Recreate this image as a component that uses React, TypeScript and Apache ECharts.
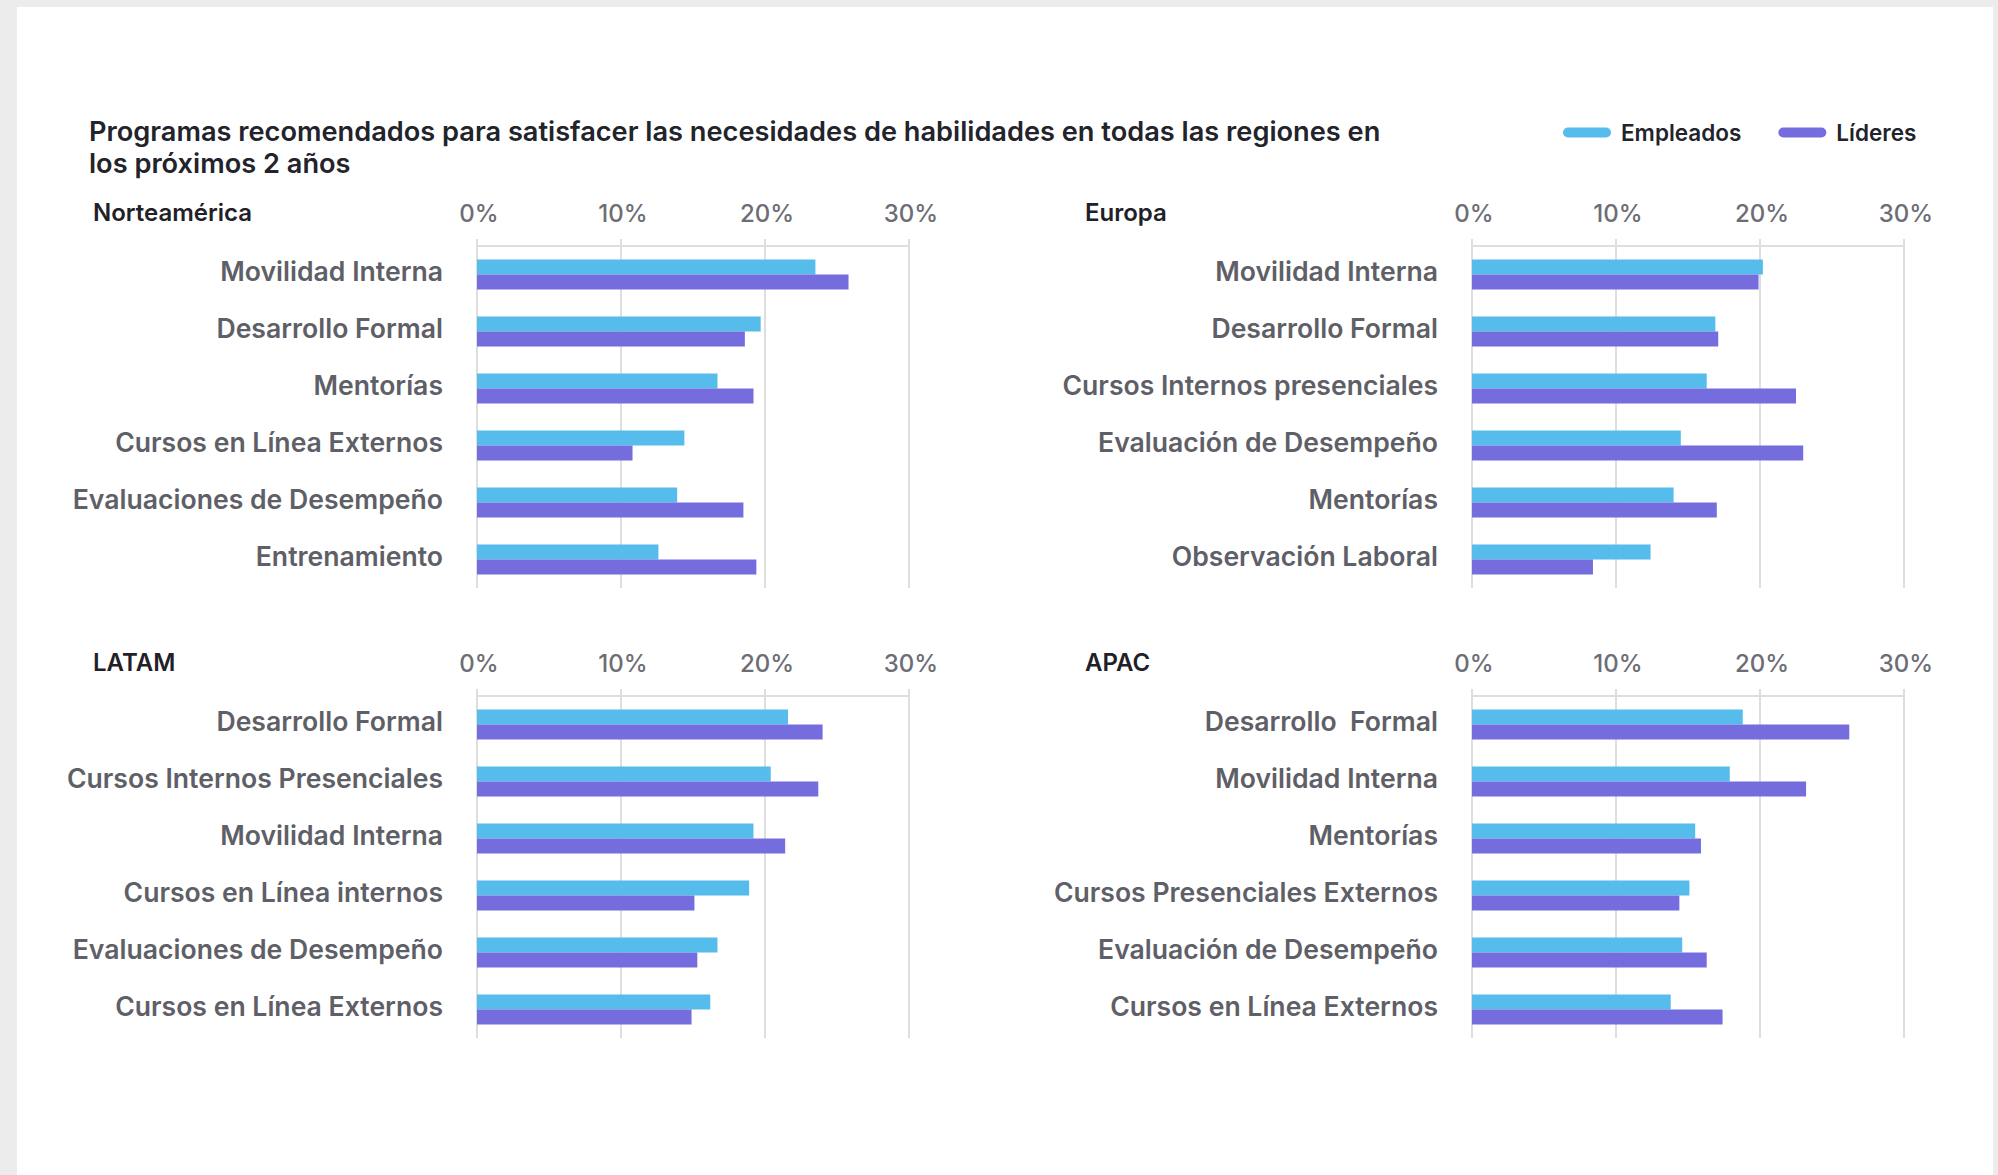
import React, { useEffect, useRef } from "react";
import * as echarts from "echarts";

const seriesNames = ["Empleados", "Líderes"];
const regionNames = ["Norteamérica", "Europa", "LATAM", "APAC"];
const tickValues = [0, 10, 20, 30];

const naCats = ["Movilidad Interna", "Desarrollo Formal", "Mentorías", "Cursos en Línea Externos", "Evaluaciones de Desempeño", "Entrenamiento"];
const naEmp = [23.5, 19.7, 16.7, 14.4, 13.9, 12.6];
const naLid = [25.8, 18.6, 19.2, 10.8, 18.5, 19.4];

const euCats = ["Movilidad Interna", "Desarrollo Formal", "Cursos Internos presenciales", "Evaluación de Desempeño", "Mentorías", "Observación Laboral"];
const euEmp = [20.2, 16.9, 16.3, 14.5, 14.0, 12.4];
const euLid = [19.9, 17.1, 22.5, 23.0, 17.0, 8.4];

const latCats = ["Desarrollo Formal", "Cursos Internos Presenciales", "Movilidad Interna", "Cursos en Línea internos", "Evaluaciones de Desempeño", "Cursos en Línea Externos"];
const latEmp = [21.6, 20.4, 19.2, 18.9, 16.7, 16.2];
const latLid = [24.0, 23.7, 21.4, 15.1, 15.3, 14.9];

const apCats = ["Desarrollo  Formal", "Movilidad Interna", "Mentorías", "Cursos Presenciales Externos", "Evaluación de Desempeño", "Cursos en Línea Externos"];
const apEmp = [18.8, 17.9, 15.5, 15.1, 14.6, 13.8];
const apLid = [26.2, 23.2, 15.9, 14.4, 16.3, 17.4];

const titleText = "Programas recomendados para satisfacer las necesidades de habilidades en todas las regiones en\nlos próximos 2 años";

const FONT = "Inter, 'Noto Sans', sans-serif";
const CYAN = "#56bcec";
const PURPLE = "#756cdd";
const GRIDC = "#dedede";

export default function App() {
  const ref = useRef<HTMLDivElement>(null);
  useEffect(() => {
    if (!ref.current) return;
    const chart = echarts.init(ref.current, null, { renderer: "svg" });
    const regions = [
      { cats: naCats, emp: naEmp, lid: naLid, left: 477, top: 246, hx: 93, hy: 212 },
      { cats: euCats, emp: euEmp, lid: euLid, left: 1472, top: 246, hx: 1085, hy: 212 },
      { cats: latCats, emp: latEmp, lid: latLid, left: 477, top: 696, hx: 93, hy: 662 },
      { cats: apCats, emp: apEmp, lid: apLid, left: 1472, top: 696, hx: 1085, hy: 662 },
    ];
    const grid: any[] = [];
    const xAxis: any[] = [];
    const yAxis: any[] = [];
    const series: any[] = [];
    const graphic: any[] = [
      {
        type: "text",
        x: 89,
        y: 147,
        style: {
          text: titleText,
          fontFamily: FONT,
          fontSize: 27.2,
          fontWeight: 600,
          lineHeight: 32,
          fill: "#22232b",
          verticalAlign: "middle",
        },
      },
    ];
    regions.forEach((r, i) => {
      grid.push({ left: r.left, top: r.top, width: 432, height: 342, containLabel: false });
      xAxis.push({
        type: "value",
        gridIndex: i,
        position: "top",
        min: tickValues[0],
        max: tickValues[tickValues.length - 1],
        interval: tickValues[1] - tickValues[0],
        axisLine: { show: true, lineStyle: { color: GRIDC, width: 2 } },
        axisTick: { show: true, length: 7, lineStyle: { color: GRIDC, width: 2 } },
        splitLine: { show: true, lineStyle: { color: GRIDC, width: 2 } },
        axisLabel: {
          formatter: "{value}%",
          fontFamily: FONT,
          fontSize: 24,
          fontWeight: 500,
          color: "#6c6d75",
          margin: 21,
          padding: [0, 0, 0, 4],
        },
      });
      yAxis.push({
        type: "category",
        gridIndex: i,
        data: r.cats,
        inverse: true,
        axisLine: { show: false },
        axisTick: { show: false },
        splitLine: { show: false },
        axisLabel: {
          fontFamily: FONT,
          fontSize: 26.6,
          fontWeight: 600,
          color: "#5e5f67",
          margin: 34,
          verticalAlign: "bottom",
          lineHeight: 7,
        },
      });
      series.push({
        type: "bar",
        name: seriesNames[0],
        xAxisIndex: i,
        yAxisIndex: i,
        data: r.emp,
        barWidth: 15,
        barGap: "0%",
        itemStyle: { color: CYAN },
      });
      series.push({
        type: "bar",
        name: seriesNames[1],
        xAxisIndex: i,
        yAxisIndex: i,
        data: r.lid,
        barWidth: 15,
        barGap: "0%",
        itemStyle: { color: PURPLE },
      });
      graphic.push({
        type: "text",
        x: r.hx,
        y: r.hy,
        style: {
          text: regionNames[i],
          fontFamily: FONT,
          fontSize: 24,
          fontWeight: 600,
          fill: "#1f2028",
          verticalAlign: "middle",
        },
      });
    });
    chart.setOption({
      animation: false,
      backgroundColor: "transparent",
      textStyle: { fontFamily: FONT },
      legend: {
        data: seriesNames,
        left: 1558,
        top: 116,
        itemWidth: 48,
        itemHeight: 10,
        itemGap: 37,
        icon: "path://M5,0 L43,0 A5,5 0 0 1 43,10 L5,10 A5,5 0 0 1 5,0 Z",
        textStyle: {
          fontFamily: FONT,
          fontSize: 22.5,
          fontWeight: 600,
          color: "#22232b",
          padding: [0, 0, 0, 5],
        },
      },
      grid,
      xAxis,
      yAxis,
      series,
      graphic,
    });
    return () => chart.dispose();
  }, []);
  return (
    <div style={{ position: "fixed", left: 0, top: 0, width: 1998, height: 1175, background: "#ececec", overflow: "hidden" }}>
      <div style={{ position: "absolute", left: 17, top: 7, width: 1976, height: 1168, background: "#ffffff" }} />
      <div ref={ref} style={{ position: "absolute", left: 0, top: 0, width: 1998, height: 1175 }} />
    </div>
  );
}
